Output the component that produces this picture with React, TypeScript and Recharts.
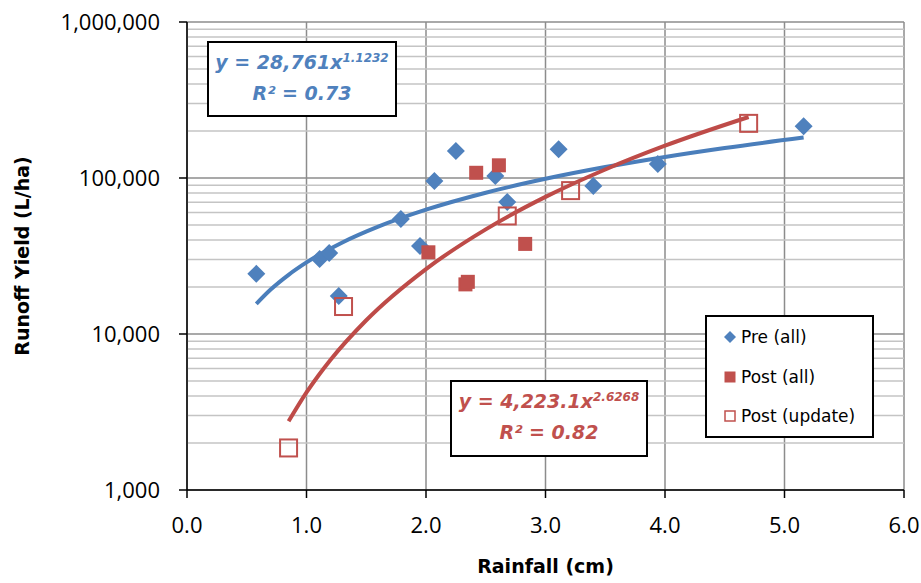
import React from 'react';
import {
  ComposedChart,
  Line,
  Scatter,
  XAxis,
  YAxis,
  CartesianGrid,
  ReferenceLine,
  Legend,
} from 'recharts';

const BLUE = '#4f81bd';
const RED = '#c0504d';
const BLUE_LINE = '#4a7ebb';
const RED_LINE = '#be4b48';

// x ticks / y ticks
const xTicks = [0, 1, 2, 3, 4, 5, 6];
const yTicks = [1000, 10000, 100000, 1000000];
const yMinor = [
  2000, 3000, 4000, 5000, 6000, 7000, 8000, 9000,
  20000, 30000, 40000, 50000, 60000, 70000, 80000, 90000,
  200000, 300000, 400000, 500000, 600000, 700000, 800000, 900000,
];

// Pre (all)
const preX = [0.58, 1.11, 1.19, 1.27, 1.79, 1.95, 2.07, 2.25, 2.58, 2.68, 3.11, 3.40, 3.94, 5.16];
const preY = [24300, 30300, 33000, 17500, 54600, 36600, 95700, 149000, 103000, 70200, 153000, 88900, 123000, 215000];

// Post (all)
const postAllX = [2.02, 2.33, 2.35, 2.42, 2.61, 2.83];
const postAllY = [33400, 20800, 21600, 108000, 120600, 37800];

// Post (update)
const postUpdX = [0.85, 1.31, 2.68, 3.21, 4.70];
const postUpdY = [1860, 15000, 57100, 83000, 224000];

// trend lines
const preTrendX = [0.58, 0.7, 0.85, 1.0, 1.3, 1.6, 2.0, 2.5, 3.0, 3.5, 4.0, 4.5, 5.16];
const preTrendY = [15600, 19270, 23960, 28760, 38620, 48760, 62650, 80500, 98790, 117470, 136480, 155780, 181620];
const postTrendX = [0.85, 1.0, 1.1, 1.2, 1.5, 2.0, 2.5, 3.0, 3.5, 4.0, 4.7];
const postTrendY = [2756, 4223, 5424, 6817, 12250, 26080, 46870, 75670, 113400, 161100, 246100];

const legendItems = [
  { name: 'Pre (all)', kind: 'diamond' },
  { name: 'Post (all)', kind: 'square' },
  { name: 'Post (update)', kind: 'open' },
];

const zip = (xs: number[], ys: number[]) => xs.map((x, i) => ({ x, y: ys[i] }));

const preData = zip(preX, preY);
const postAllData = zip(postAllX, postAllY);
const postUpdData = zip(postUpdX, postUpdY);
const preTrend = zip(preTrendX, preTrendY);
const postTrend = zip(postTrendX, postTrendY);

const TICK_FONT = '"Open Sans", sans-serif';

const Diamond = (props: any) => {
  const { cx, cy } = props;
  const r = 9;
  return <polygon points={`${cx},${cy - r} ${cx + r},${cy} ${cx},${cy + r} ${cx - r},${cy}`} fill={BLUE} />;
};

const FilledSquare = (props: any) => {
  const { cx, cy } = props;
  return <rect x={cx - 7} y={cy - 7} width={14} height={14} fill={RED} />;
};

const OpenSquare = (props: any) => {
  const { cx, cy } = props;
  return <rect x={cx - 8.5} y={cy - 8.5} width={17} height={17} fill="none" stroke={RED} strokeWidth={2} />;
};

const LegendMarker = ({ kind }: { kind: string }) => (
  <svg width={14} height={14} style={{ marginRight: 4 }}>
    {kind === 'diamond' && <polygon points="7,1 13,7 7,13 1,7" fill={BLUE} />}
    {kind === 'square' && <rect x={1.5} y={1.5} width={11} height={11} fill={RED} />}
    {kind === 'open' && <rect x={2} y={2} width={10} height={10} fill="none" stroke={RED} strokeWidth={1.5} />}
  </svg>
);

const LegendBox = () => (
  <div
    style={{
      width: 165,
      height: 119,
      border: '2px solid #000',
      background: '#fff',
      boxSizing: 'content-box',
      display: 'flex',
      flexDirection: 'column',
      justifyContent: 'space-around',
      fontSize: 17,
      color: '#000',
    }}
  >
    {legendItems.map(item => (
      <div key={item.name} style={{ display: 'flex', alignItems: 'center', paddingLeft: 16, height: 40 }}>
        <LegendMarker kind={item.kind} />
        <span>{item.name}</span>
      </div>
    ))}
  </div>
);

const eqText: React.CSSProperties = {
  fontWeight: 'bold',
  fontStyle: 'italic',
  fontSize: 19,
  lineHeight: '31px',
  textAlign: 'center',
};

export default function App() {
  return (
    <div style={{ position: 'absolute', left: 0, top: 0, width: 921, height: 583, background: '#fff', fontFamily: '"DejaVu Sans", sans-serif' }}>
      <ComposedChart width={921} height={583} margin={{ top: 22, right: 17, bottom: 0, left: 0 }}>
        <CartesianGrid stroke="#8c8c8c" strokeWidth={1.5} />
        {yMinor.map(v => (
          <ReferenceLine key={v} y={v} stroke="#c4c4c4" strokeWidth={1.5} />
        ))}
        <XAxis
          type="number"
          dataKey="x"
          domain={[0, 6]}
          ticks={xTicks}
          tickFormatter={(v: number) => v.toFixed(1)}
          height={93}
          tick={{ fontSize: 22, fill: '#000', fontFamily: TICK_FONT }}
          tickSize={8}
          tickMargin={19}
          axisLine={{ stroke: '#000', strokeWidth: 1.5 }}
          tickLine={{ stroke: '#000', strokeWidth: 1.5 }}
          label={{ value: 'Rainfall (cm)', position: 'insideBottom', offset: 10, style: { fontWeight: 'bold', fontSize: 19, fill: '#000' } }}
        />
        <YAxis
          type="number"
          scale="log"
          domain={[1000, 1000000]}
          ticks={yTicks}
          allowDataOverflow
          tickFormatter={(v: number) => v.toLocaleString('en-US')}
          width={187}
          tick={{ fontSize: 22, fill: '#000', fontFamily: TICK_FONT }}
          tickSize={8}
          tickMargin={19}
          axisLine={{ stroke: '#000', strokeWidth: 1.5 }}
          tickLine={{ stroke: '#000', strokeWidth: 1.5 }}
          label={{ value: 'Runoff Yield (L/ha)', angle: -90, position: 'insideLeft', offset: 22, style: { textAnchor: 'middle', fontWeight: 'bold', fontSize: 19, fill: '#000' } }}
        />
        <Line data={preTrend} dataKey="y" type="monotone" stroke={BLUE_LINE} strokeWidth={4} dot={false} isAnimationActive={false} legendType="none" />
        <Line data={postTrend} dataKey="y" type="monotone" stroke={RED_LINE} strokeWidth={4} dot={false} isAnimationActive={false} legendType="none" />
        <Scatter name="Pre (all)" data={preData} dataKey="y" shape={Diamond} isAnimationActive={false} />
        <Scatter name="Post (all)" data={postAllData} dataKey="y" shape={FilledSquare} isAnimationActive={false} />
        <Scatter name="Post (update)" data={postUpdData} dataKey="y" shape={OpenSquare} isAnimationActive={false} />
        <Legend
          layout="vertical"
          align="center"
          verticalAlign="middle"
          content={() => <LegendBox />}
          wrapperStyle={{ position: 'absolute', left: 705, top: 315, width: 169, height: 123 }}
        />
      </ComposedChart>

      <div
        style={{
          position: 'absolute',
          left: 207,
          top: 41,
          width: 186,
          height: 68,
          border: '2px solid #000',
          background: '#fff',
          color: BLUE,
          paddingTop: 4,
          boxSizing: 'content-box',
        }}
      >
        <div style={eqText}>
          y = 28,761x<sup style={{ fontSize: 12, verticalAlign: 7, lineHeight: 0 }}>1.1232</sup>
        </div>
        <div style={eqText}>R² = 0.73</div>
      </div>

      <div
        style={{
          position: 'absolute',
          left: 450,
          top: 380,
          width: 194,
          height: 69,
          border: '2px solid #000',
          background: '#fff',
          color: RED,
          paddingTop: 4,
          boxSizing: 'content-box',
        }}
      >
        <div style={eqText}>
          y = 4,223.1x<sup style={{ fontSize: 12, verticalAlign: 7, lineHeight: 0 }}>2.6268</sup>
        </div>
        <div style={eqText}>R² = 0.82</div>
      </div>
    </div>
  );
}
